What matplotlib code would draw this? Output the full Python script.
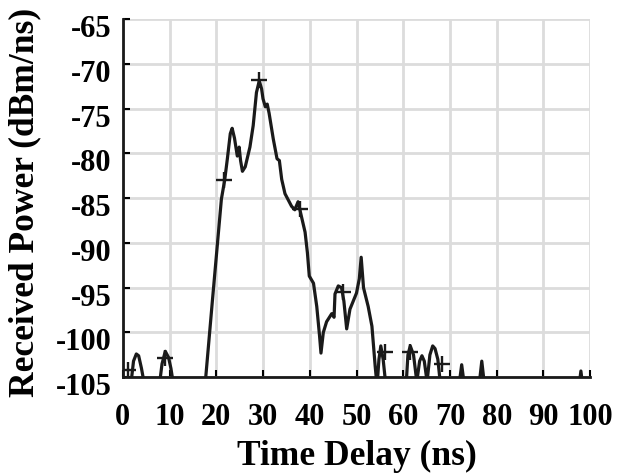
import matplotlib
matplotlib.use('Agg')
import matplotlib.pyplot as plt
from matplotlib.transforms import ScaledTranslation

# power delay profile (values below -105 run off the axis)
delay_ns = [0.0, 1.8, 2.3, 2.9, 3.4, 4.0, 4.7,
            7.8, 8.4, 9.1, 9.8, 10.3, 10.9,
            17.5, 19.2, 21.1, 21.8, 22.4, 23.0, 23.4, 23.9, 24.5, 24.9, 25.2, 25.6,
            26.2, 27.2, 27.9, 28.6, 29.2, 29.7, 30.0, 30.5, 30.9, 31.3, 32.2, 33.0,
            33.5, 34.0, 34.7, 35.2, 36.1, 36.8, 37.5, 38.2, 39.0, 39.5, 39.9, 40.8,
            41.5, 42.1, 42.4, 42.9, 43.6, 44.7, 45.2, 45.4, 46.1, 46.8, 47.3, 47.9,
            48.6, 50.0, 50.6, 51.0, 51.5, 52.5, 53.3, 54.0, 54.4, 54.8, 55.2, 55.7, 56.3,
            60.6, 61.0, 61.5, 62.2, 62.9, 63.5, 64.0, 64.5, 65.1, 65.7, 66.3, 66.8, 67.4, 68.0,
            71.9, 72.5, 73.1, 76.2, 76.8, 77.4, 97.6, 98.0, 98.4, 100.0]
power_dbm = [-107, -105.5, -103.2, -102.4, -102.6, -104.0, -106,
             -106, -103.5, -102.1, -102.8, -104.0, -106,
             -106.5, -96.3, -85.1, -83.0, -80.5, -77.8, -77.2, -78.3, -80.3, -79.3, -80.8, -82.0,
             -81.5, -79.3, -76.9, -73.2, -71.9, -72.8, -73.9, -74.8, -74.5, -75.5, -78.4, -80.6,
             -80.8, -82.9, -84.5, -85.0, -85.9, -86.3, -85.4, -87.0, -88.8, -91.1, -93.7, -94.5,
             -97.1, -100.4, -102.3, -100.0, -98.8, -97.9, -98.3, -95.7, -94.8, -95.0, -96.5, -99.6,
             -97.4, -95.6, -94.0, -91.6, -95.0, -97.1, -99.3, -103.8, -106, -103.0, -101.5, -103.0, -106,
             -106, -102.5, -101.5, -102.5, -105.5, -103.2, -102.6, -103.2, -105.5, -102.5, -101.5, -101.8, -103.0, -106,
             -106, -103.6, -106, -106, -103.2, -106, -106, -104.3, -106, -107]

# detected multipath components (+ markers)
peak_delay = [1.1, 9.0, 21.6, 29.2, 37.9, 47.2, 56.2, 61.5, 68.2]
peak_power = [-104.2, -102.8, -83.0, -71.8, -86.2, -95.5, -102.2, -102.2, -103.5]

xticks = list(range(0, 101, 10))
yticks = list(range(-105, -64, 5))

plt.rcParams['font.family'] = ['Liberation Serif', 'DejaVu Serif']
plt.rcParams['font.weight'] = 'bold'
plt.rcParams['axes.unicode_minus'] = False

fig = plt.figure(figsize=(6.2, 4.77), dpi=100)
ax = fig.add_axes([0.198, 0.207, 0.754, 0.751])

ax.plot(delay_ns, power_dbm, color='#1a1a1a', linewidth=2.3)
ax.plot(peak_delay, peak_power, linestyle='none', marker='+', color='#1a1a1a',
        markersize=11, markeredgewidth=1.7)

ax.set_xlim(0, 100)
ax.set_ylim(-105, -65)
ax.set_xticks(xticks)
ax.set_yticks(yticks)
ax.grid(True, color='#dcdcdc', linewidth=2)
ax.set_axisbelow(True)

for side in ['top', 'right']:
    ax.spines[side].set_visible(False)
for side in ['left', 'bottom']:
    ax.spines[side].set_linewidth(2)
    ax.spines[side].set_color('#1a1a1a')

ax.tick_params(direction='in', length=5, width=1.5, labelsize=22)
ax.tick_params(axis='x', pad=17.5)
ax.tick_params(axis='y', pad=8)
# y labels sit a little below their ticks in the reference
shift = ScaledTranslation(0, -6 / 100, fig.dpi_scale_trans)
for lab in ax.get_yticklabels():
    lab.set_transform(lab.get_transform() + shift)
for lab in ax.get_xticklabels() + ax.get_yticklabels():
    lab.set_fontweight('bold')

ax.set_xlabel('Time Delay (ns)', fontsize=25.5, fontweight='bold', labelpad=6)
ax.set_ylabel('Received Power (dBm/ns)', fontsize=25.5, fontweight='bold')
ax.yaxis.set_label_coords(-0.174, 0.49)

fig.savefig('out.png', dpi=100)
